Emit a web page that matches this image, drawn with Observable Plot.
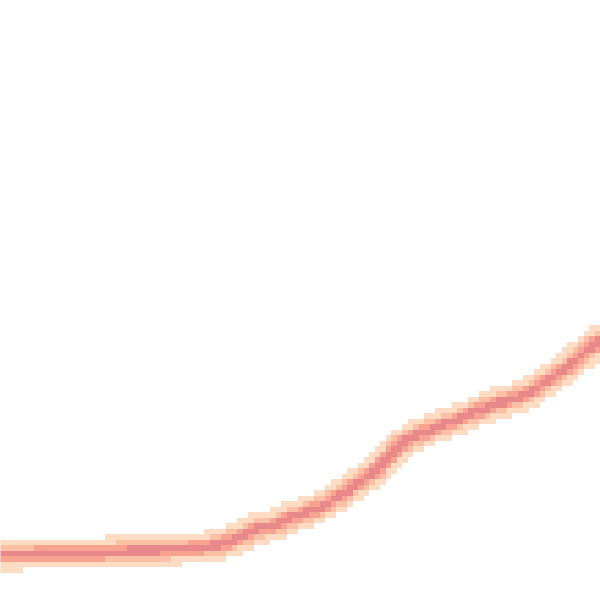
<!DOCTYPE html>
<html>
<head>
<meta charset="utf-8">
<script src="https://cdn.jsdelivr.net/npm/d3@7"></script>
<script src="https://cdn.jsdelivr.net/npm/@observablehq/plot@0.6"></script>
<style>
  html, body { margin: 0; padding: 0; background: #fff; }
</style>
</head>
<body>
<div id="chart"></div>
<script>
// Curve (abstract units, 0–100 on both axes)
const xs = [0, 8.3, 16.7, 25, 33.3, 36.7, 40, 42.8, 45.5, 48.3, 51.2, 53.8, 56.7, 59.5, 62.2, 65, 66.7, 69.5, 72.2, 75, 77.8, 80.5, 83.3, 86.2, 88.8, 91.7, 94.5, 97.2, 100];
const ys = [7.6, 7.7, 7.9, 8.3, 8.7, 9.3, 10.5, 12.0, 12.3, 13.7, 14.7, 15.8, 17.5, 19.5, 21.3, 24.2, 26.0, 27.5, 28.7, 29.7, 30.7, 32.0, 33.0, 33.8, 35.0, 37.0, 38.8, 41.2, 43.3];
// Distance bands (in the same units) and their colours
const bandEdges = [0.6, 1.05, 1.6, 2.6];
const bandColors = ["#e9888b", "#f8a391", "#fcc0a7", "#fedbc3", "#ffffff"];

function distToCurve(x, y) {
  let best = Infinity;
  for (let i = 0; i < xs.length - 1; i++) {
    const ax = xs[i], ay = ys[i], bx = xs[i + 1], by = ys[i + 1];
    const dx = bx - ax, dy = by - ay;
    let t = ((x - ax) * dx + (y - ay) * dy) / (dx * dx + dy * dy);
    t = Math.max(0, Math.min(1, t));
    const px = ax + t * dx - x, py = ay + t * dy - y;
    const d = Math.hypot(px, py);
    if (d < best) best = d;
  }
  return best;
}

const chart = Plot.plot({
  width: 600,
  height: 600,
  margin: 0,
  x: {domain: [0, 100], axis: null},
  y: {domain: [0, 100], axis: null},
  color: {type: "threshold", domain: bandEdges, range: bandColors},
  marks: [
    Plot.raster({
      fill: (x, y) => distToCurve(x, y),
      x1: 0, x2: 100, y1: 0, y2: 100,
      pixelSize: 5.5,
      imageRendering: "pixelated"
    })
  ]
});
document.getElementById("chart").append(chart);
</script>
</body>
</html>
